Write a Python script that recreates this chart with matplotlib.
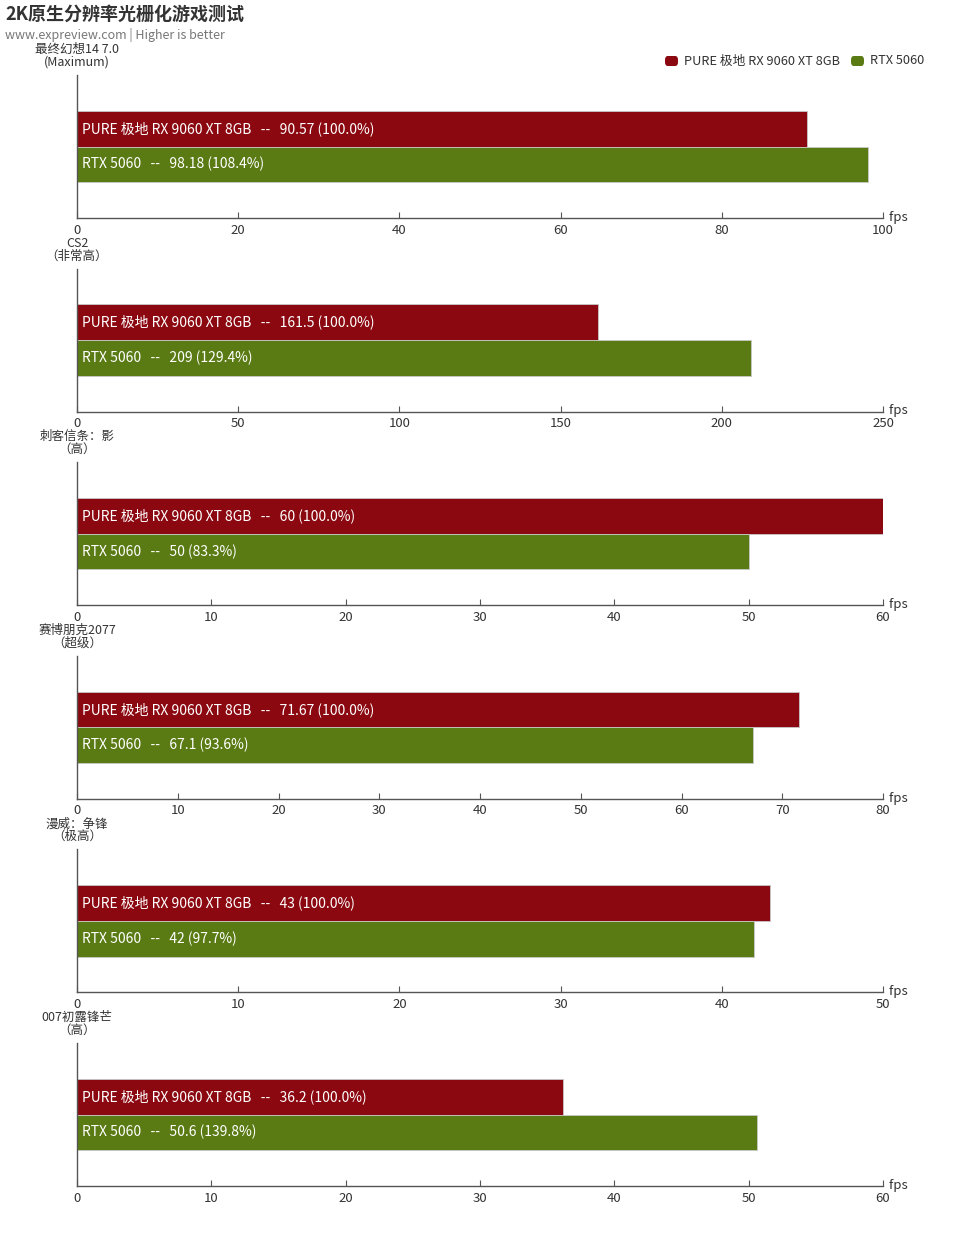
import matplotlib
matplotlib.use("Agg")
import matplotlib.pyplot as plt
from matplotlib.patches import FancyBboxPatch

plt.rcParams['font.family'] = ['Noto Sans CJK SC', 'DejaVu Sans']

title = "2K原生分辨率光栅化游戏测试"
subtitle = "www.expreview.com | Higher is better"
series_names = ["PURE 极地 RX 9060 XT 8GB", "RTX 5060"]
colors = ["#8b0810", "#5a7b14"]

games = ["最终幻想14 7.0\n(Maximum)", "CS2\n（非常高）", "刺客信条：影\n（高）",
         "赛博朋克2077\n（超级）", "漫威：争锋\n（极高）", "007初露锋芒\n（高）"]
amd_vals = [90.57, 161.5, 60, 71.67, 43, 36.2]
amd_labels = ["90.57", "161.5", "60", "71.67", "43", "36.2"]
nv_vals = [98.18, 209, 50, 67.1, 42, 50.6]
nv_labels = ["98.18", "209", "50", "67.1", "42", "50.6"]
x_max = [100, 250, 60, 80, 50, 60]
x_step = [20, 50, 10, 10, 10, 10]

W, H = 960, 1250
fig = plt.figure(figsize=(W / 100, H / 100), dpi=100)

left_px, right_px = 77, 883
first_bottom = 218
spacing = 193.6
ax_h = 143

fig.text(5 / W, 1 - 14 / H, title, fontsize=13, fontweight='bold', color='#333333',
         ha='left', va='center')
fig.text(5 / W, 1 - 35 / H, subtitle, fontsize=9, color='#777777', ha='left', va='center')

# legend
leg_y = 1 - 61 / H
legend_items = [(665, 684), (851, 870)]
for (mx, tx), name, c in zip(legend_items, series_names, colors):
    fig.patches.append(FancyBboxPatch((mx / W, leg_y - 5 / H), 13 / W, 10 / H,
                                      boxstyle="round,pad=0,rounding_size=0.003",
                                      transform=fig.transFigure, facecolor=c, edgecolor='none'))
    fig.text(tx / W, leg_y, name, fontsize=9.2, color='#333333', ha='left', va='center')

for i in range(6):
    bottom_px = first_bottom + spacing * i
    top_px = bottom_px - ax_h
    ax = fig.add_axes([left_px / W, 1 - bottom_px / H, (right_px - left_px) / W, ax_h / H])
    ax.set_xlim(0, x_max[i])
    ax.set_ylim(0, 4)
    for j, (v, lab, c) in enumerate([(amd_vals[i], amd_labels[i], colors[0]),
                                     (nv_vals[i], nv_labels[i], colors[1])]):
        yc = 2.5 - j
        ax.barh(yc, v, height=1.0, color=c, edgecolor='#c8c8c8', linewidth=0.6, zorder=2)
        pct = v / amd_vals[i] * 100
        ax.text(x_max[i] * 5 / (right_px - left_px), yc,
                f"{series_names[j]}   --   {lab} ({pct:.1f}%)",
                color='white', fontsize=10, ha='left', va='center', zorder=3)
    for s in ['top', 'right']:
        ax.spines[s].set_visible(False)
    for s in ['left', 'bottom']:
        ax.spines[s].set_color('#555555')
        ax.spines[s].set_linewidth(1.0)
    ticks = list(range(0, x_max[i] + 1, x_step[i]))
    ax.set_xticks(ticks)
    ax.set_xticklabels([str(t) for t in ticks])
    ax.set_yticks([])
    ax.tick_params(axis='x', direction='in', length=4, color='#555555', labelsize=9.5,
                   labelcolor='#333333', pad=4)
    ax.text(1.0, 0.005, "  fps", transform=ax.transAxes, ha='left', va='center',
            fontsize=9.5, color='#333333')
    fig.text(left_px / W, 1 - (top_px - 19) / H, games[i], fontsize=9, color='#333333',
             ha='center', va='center', linespacing=0.95)

fig.savefig("out.png", dpi=100)
